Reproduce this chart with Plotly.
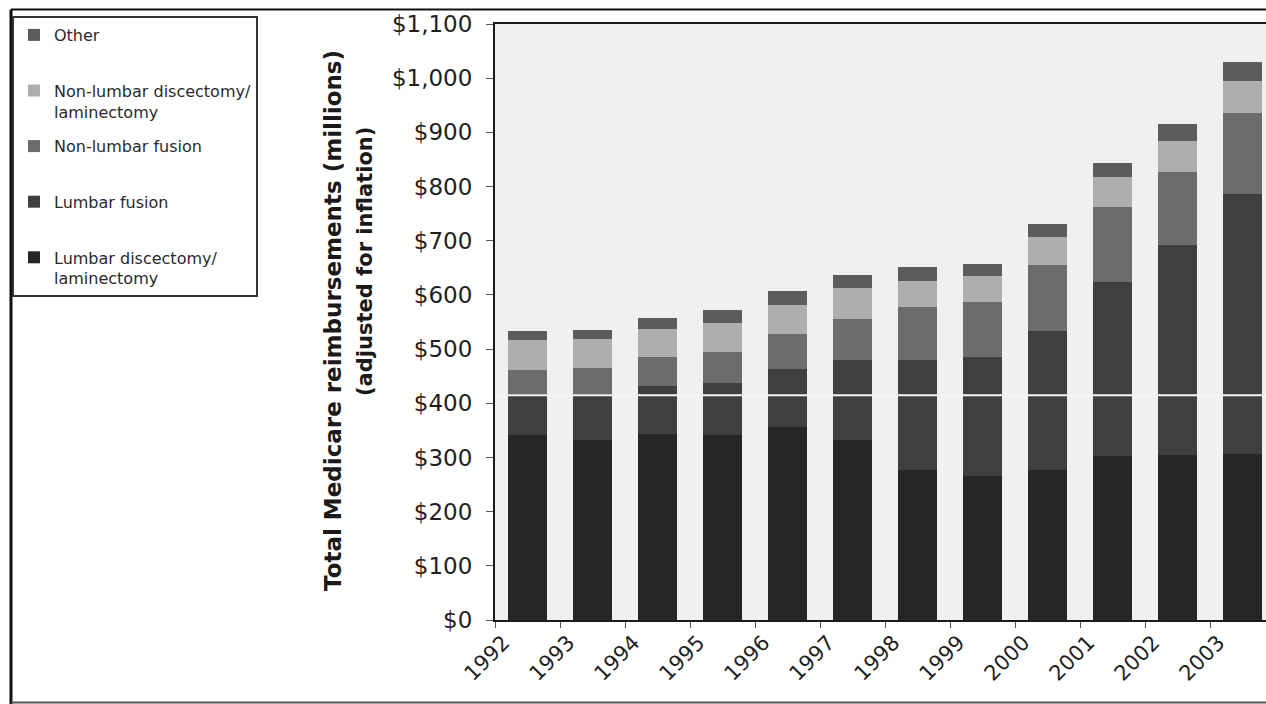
import plotly.graph_objects as go

# Medicare reimbursements for spine surgery, millions of dollars (inflation adjusted)
years = ["1992", "1993", "1994", "1995", "1996", "1997",
         "1998", "1999", "2000", "2001", "2002", "2003"]

lumbar_discectomy = [341, 333, 343, 341, 357, 333, 276, 266, 277, 303, 305, 306]
lumbar_fusion = [77, 85, 89, 96, 106, 147, 204, 219, 257, 320, 387, 480]
nonlumbar_fusion = [43, 48, 54, 58, 65, 75, 98, 101, 121, 140, 134, 150]
nonlumbar_discectomy = [56, 52, 51, 54, 53, 57, 48, 48, 52, 54, 58, 58]
other = [17, 18, 21, 23, 26, 25, 25, 23, 24, 27, 31, 35]

y_tick_values = [0, 100, 200, 300, 400, 500, 600, 700, 800, 900, 1000, 1100]
y_tick_labels = ["$0", "$100", "$200", "$300", "$400", "$500", "$600",
                 "$700", "$800", "$900", "$1,000", "$1,100"]

W, H = 1266, 704
ML, MR, MT, MB = 495, 0, 24, 84
PW, PH = W - ML - MR, H - MT - MB

FONT = "DejaVu Sans"
TXT = "#1e1e1e"

# (legend label, values, colour, legend rank) -- stacked bottom to top
series = [
    ("Lumbar discectomy/<br>laminectomy", lumbar_discectomy, "#262626", 5),
    ("Lumbar fusion<br> ", lumbar_fusion, "#3f3f3f", 4),
    ("Non-lumbar fusion<br> ", nonlumbar_fusion, "#6c6c6c", 3),
    ("Non-lumbar discectomy/<br>laminectomy", nonlumbar_discectomy, "#aeaeae", 2),
    ("Other<br> ", other, "#5c5c5c", 1),
]

fig = go.Figure()
for i, (name, vals, col, rank) in enumerate(series):
    fig.add_trace(go.Bar(
        x=years, y=vals, name=name, legendgroup=f"g{i}", legendrank=rank,
        marker=dict(color=col, line=dict(width=0)),
    ))


def px_x(px):
    return (px - ML) / PW


def px_y(py):
    return (H - MB - py) / PH


shapes = [
    # seam line running across the plot
    dict(type="line", xref="paper", yref="y", x0=0, x1=1, y0=415, y1=415,
         line=dict(color="#f4f4f4", width=2), layer="above"),
    # outer frame of the figure
    dict(type="line", xref="paper", yref="paper",
         x0=px_x(11), x1=px_x(W + 5), y0=px_y(9.5), y1=px_y(9.5),
         line=dict(color="#111111", width=2)),
    dict(type="line", xref="paper", yref="paper",
         x0=px_x(11), x1=px_x(11), y0=px_y(9.5), y1=px_y(H + 5),
         line=dict(color="#111111", width=3)),
    dict(type="line", xref="paper", yref="paper",
         x0=px_x(11), x1=px_x(W + 5), y0=px_y(702.5), y1=px_y(702.5),
         line=dict(color="#555555", width=2)),
]

annotations = [
    dict(text="<b>Total Medicare reimbursements (millions)</b>", textangle=-90,
         xref="paper", yref="paper", x=px_x(333), y=px_y(321),
         xanchor="center", yanchor="middle", showarrow=False,
         font=dict(family=FONT, size=23, color="#1a1a1a")),
    dict(text="<b>(adjusted for inflation)</b>", textangle=-90,
         xref="paper", yref="paper", x=px_x(365), y=px_y(262),
         xanchor="center", yanchor="middle", showarrow=False,
         font=dict(family=FONT, size=21, color="#1a1a1a")),
]

fig.update_layout(
    width=W, height=H, autosize=False,
    margin=dict(l=ML, r=MR, t=MT, b=MB, pad=0),
    paper_bgcolor="white",
    plot_bgcolor="#f0f0f0",
    barmode="stack",
    bargap=0.415,
    font=dict(family=FONT, color=TXT),
    showlegend=True,
    legend=dict(
        xref="container", yref="container",
        x=12 / W, y=1 - 16 / H, xanchor="left", yanchor="top",
        traceorder="grouped", tracegroupgap=11, valign="top",
        bgcolor="white", bordercolor="#333333", borderwidth=2,
        font=dict(family=FONT, size=16, color="#2a2a2a"),
    ),
    xaxis=dict(
        type="category", range=[-0.5, -0.5 + PW / 65.0],
        showline=True, linecolor="#1a1a1a", linewidth=2, mirror=True,
        ticks="outside", tickson="boundaries", ticklen=6, tickcolor="#555555",
        tickangle=-45, ticklabelshift=-24, ticklabelstandoff=0,
        tickfont=dict(family=FONT, size=21, color=TXT),
        showgrid=False, zeroline=False, fixedrange=True,
    ),
    yaxis=dict(
        range=[0, 1100], tickmode="array",
        tickvals=y_tick_values, ticktext=y_tick_labels,
        showline=True, linecolor="#1a1a1a", linewidth=2,
        ticks="outside", ticklen=7, tickcolor="#555555",
        ticklabelstandoff=9,
        tickfont=dict(family=FONT, size=23, color=TXT),
        showgrid=False, zeroline=False, fixedrange=True,
    ),
    shapes=shapes,
    annotations=annotations,
)

fig.write_html("out.html")
